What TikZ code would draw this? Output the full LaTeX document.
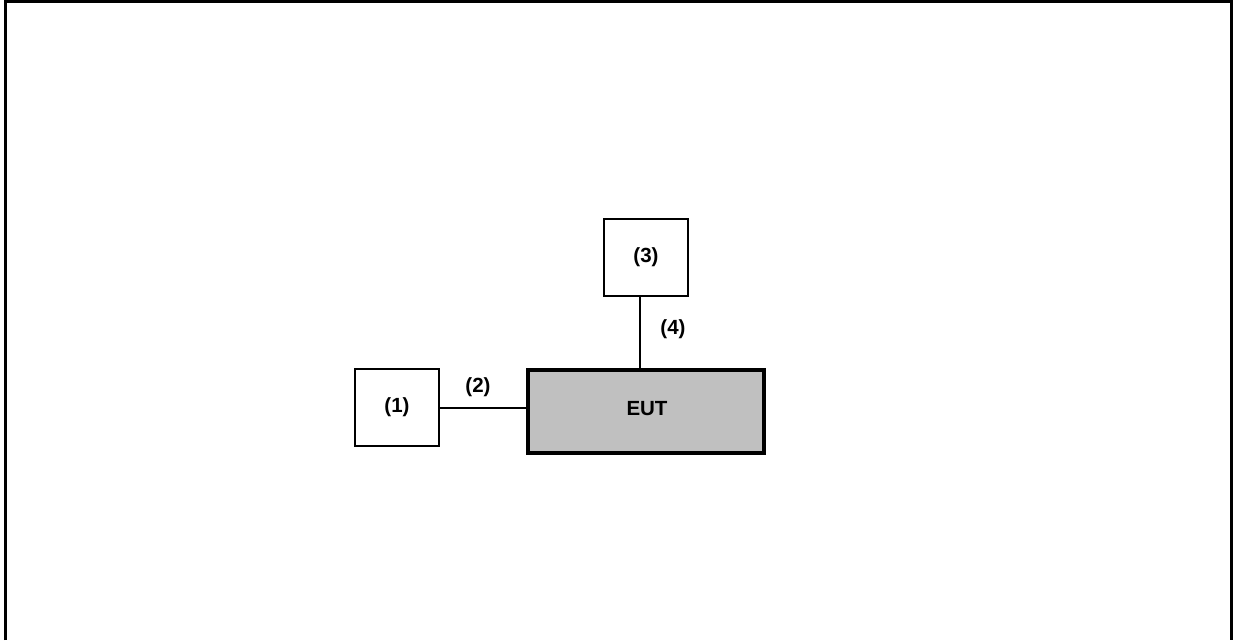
\documentclass[tikz,border=0pt]{standalone}
\usepackage{fontspec}
\setmainfont{Liberation Sans}
\definecolor{eutgray}{HTML}{C0C0C0}
\begin{document}
\begin{tikzpicture}[x=1pt,y=-1pt,
  box/.style={draw=black, line width=2pt, fill=white, minimum width=84pt, minimum height=77pt, inner sep=0pt, font=\fontsize{20.5}{24}\selectfont\bfseries},
  eutbox/.style={draw=black, line width=3.2pt, fill=eutgray, minimum width=236pt, minimum height=83pt, inner sep=0pt},
  lbl/.style={inner sep=0pt, font=\fontsize{20.5}{24}\selectfont\bfseries},
  wire/.style={draw=black, line width=2pt}]
\useasboundingbox (0,0) rectangle (1238,640);
\draw[line width=3pt] (5.5,640) -- (5.5,1.2) -- (1231.5,1.2) -- (1231.5,640);
\node[box] (n1) at (397,407.5) {(1)};
\node[box] (n3) at (646,257.5) {(3)};
\node[eutbox] (eut) at (646,411.5) {};
\node[lbl] (eutlbl) at (647,408.5) {EUT};
\draw[wire] (n1.east) -- (n1.east -| eut.west);
\draw[wire] ([xshift=-6pt]n3.south) -- ([xshift=-6pt,yshift=-2pt]n3.south |- eut.north);
\node[lbl] (l2) at (478,387) {(2)};
\node[lbl] (l4) at (673,329) {(4)};
\end{tikzpicture}
\end{document}
